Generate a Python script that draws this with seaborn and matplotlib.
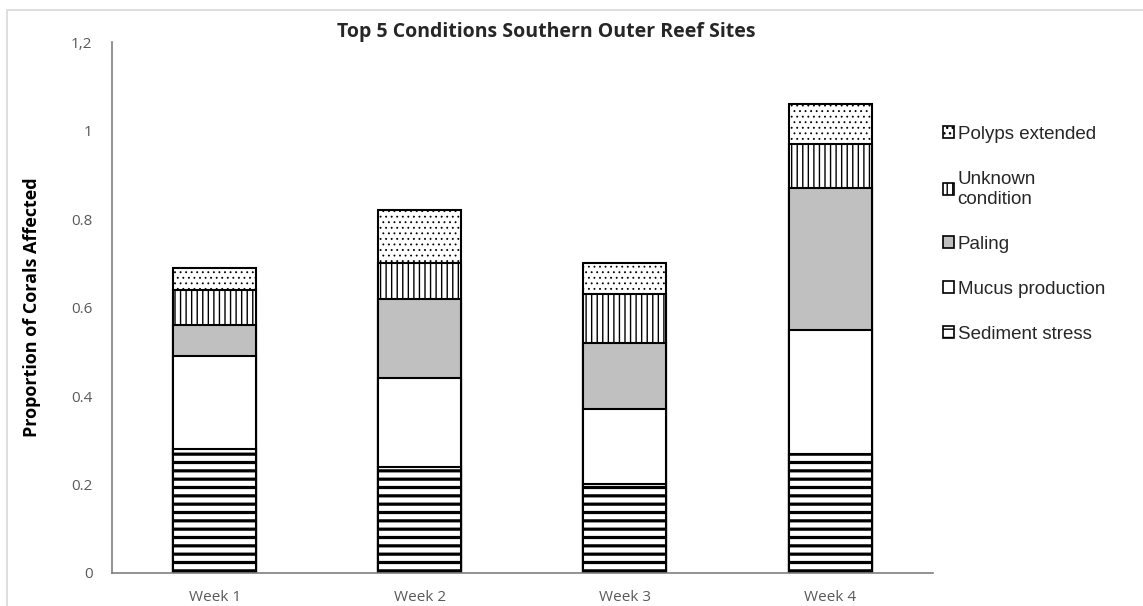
import numpy as np
import pandas as pd
import matplotlib
matplotlib.use("Agg")
import matplotlib.pyplot as plt
import matplotlib.patches as patches
from matplotlib.patches import Patch
import seaborn as sns

# Data
weeks = ["Week 1", "Week 2", "Week 3", "Week 4"]
sediment_stress = [0.28, 0.24, 0.20, 0.27]
mucus_production = [0.21, 0.20, 0.17, 0.28]
paling = [0.07, 0.18, 0.15, 0.32]
unknown_condition = [0.08, 0.08, 0.11, 0.10]
polyps_extended = [0.05, 0.12, 0.07, 0.09]

conditions = ["Sediment stress", "Mucus production", "Paling",
              "Unknown\ncondition", "Polyps extended"]
series = [sediment_stress, mucus_production, paling,
          unknown_condition, polyps_extended]
y_ticks = [0, 0.2, 0.4, 0.6, 0.8, 1.0, 1.2]
y_tick_labels = ["0", "0.2", "0.4", "0.6", "0.8", "1", "1,2"]

# styles per condition (bottom -> top)
fills = ["white", "white", "#c0c0c0", "white", "white"]
hatches = ["--", "", "", "|||", "..."]
hatch_lw = [2.3, 1.0, 1.0, 1.0, 0.6]

sns.set_style("white")
plt.rcParams["font.family"] = ["Open Sans", "DejaVu Sans"]
plt.rcParams["hatch.linewidth"] = 1.0

df = pd.DataFrame({"week": weeks})
for name, vals in zip(conditions, series):
    df[name] = vals
cum = df[conditions].cumsum(axis=1)

fig = plt.figure(figsize=(11.43, 6.06), dpi=100)
ax = fig.add_axes([0.098, 0.0545, 0.718, 0.876])

# draw cumulative totals from the top layer down so lower layers cover upper ones
for i in reversed(range(len(conditions))):
    n_before = len(ax.patches)
    sns.barplot(x=df["week"], y=cum[conditions[i]], ax=ax, color=fills[i],
                saturation=1, width=0.405, edgecolor="black", linewidth=1.5,
                hatch=hatches[i])
    for p in ax.patches[n_before:]:
        if hasattr(p, "set_hatch_linewidth"):
            p.set_hatch_linewidth(hatch_lw[i])

ax.set_xlim(-0.5, 3.5)
ax.set_ylim(0, 1.2)
ax.set_yticks(y_ticks)
ax.set_yticklabels(y_tick_labels)
ax.tick_params(axis="both", length=0, colors="#595959", labelsize=11)
ax.tick_params(axis="y", pad=14)
ax.tick_params(axis="x", pad=12)
ax.set_xlabel("")
ax.set_ylabel("Proportion of Corals Affected", fontsize=13, fontweight="bold",
              color="black", labelpad=22)
for s in ["top", "right"]:
    ax.spines[s].set_visible(False)
for s in ["left", "bottom"]:
    ax.spines[s].set_color("#7f7f7f")
    ax.spines[s].set_linewidth(1.2)

fig.text(0.478, 0.948, "Top 5 Conditions Southern Outer Reef Sites",
         ha="center", va="center", fontsize=14, fontweight="bold")

handles = [Patch(facecolor=fills[i], edgecolor="black", hatch=hatches[i],
                 linewidth=1.2) for i in reversed(range(len(conditions)))]
labels = list(reversed(conditions))
leg = fig.legend(handles, labels, loc="upper left", bbox_to_anchor=(0.81, 0.82),
                 frameon=False, handlelength=0.6, handleheight=0.6,
                 handletextpad=0.2, labelspacing=1.5,
                 prop={"family": "Liberation Sans", "size": 13.5})

# light chart-area border
fig.add_artist(patches.Rectangle((0.006, -0.01), 1.0, 0.994, transform=fig.transFigure,
                                 fill=False, edgecolor="#d9d9d9", linewidth=1.2))

fig.savefig("out.png", dpi=100, facecolor="white")
